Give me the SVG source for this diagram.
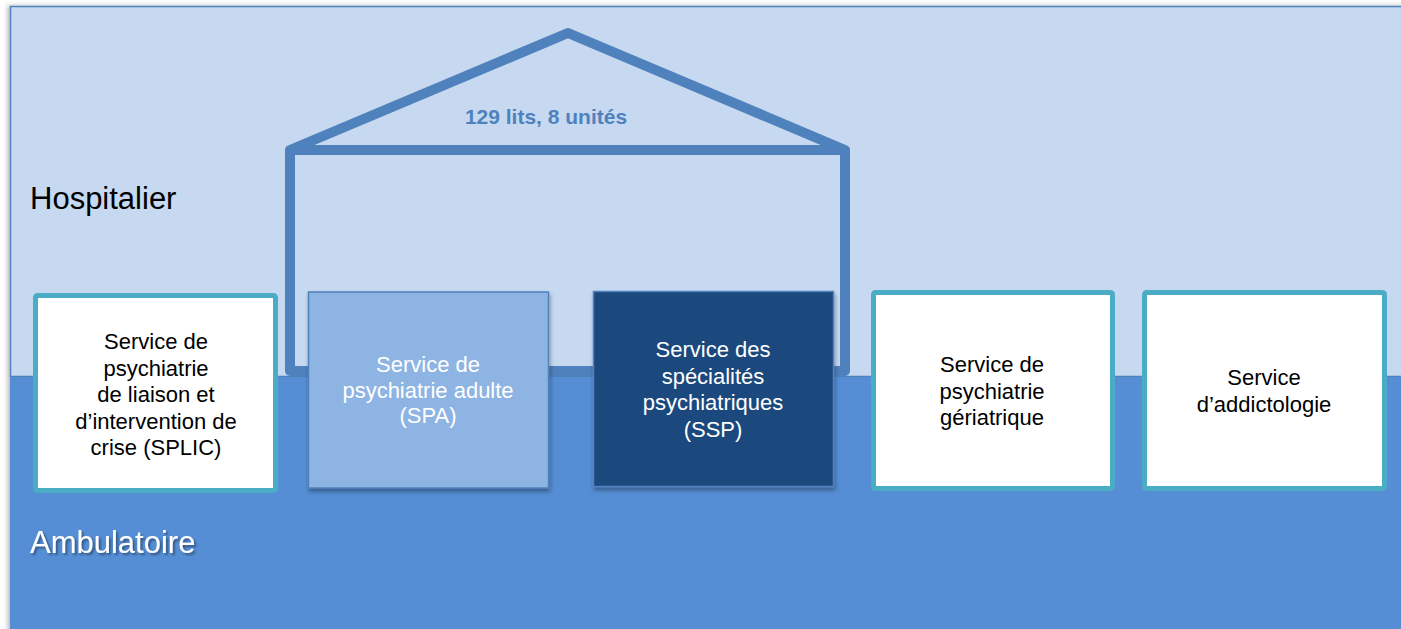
<svg xmlns="http://www.w3.org/2000/svg" width="1401" height="629" viewBox="0 0 1401 629">
<defs>
<filter id="sh" x="-10%" y="-10%" width="130%" height="130%">
<feGaussianBlur in="SourceAlpha" stdDeviation="2"/>
<feOffset dx="1" dy="3" result="b"/>
<feFlood flood-color="#000" flood-opacity="0.35"/>
<feComposite in2="b" operator="in"/>
<feMerge><feMergeNode/><feMergeNode in="SourceGraphic"/></feMerge>
</filter>
<filter id="tsh" x="-10%" y="-30%" width="130%" height="160%">
<feGaussianBlur in="SourceAlpha" stdDeviation="1"/>
<feOffset dx="1.5" dy="1.5" result="b"/>
<feFlood flood-color="#000" flood-opacity="0.4"/>
<feComposite in2="b" operator="in"/>
<feMerge><feMergeNode/><feMergeNode in="SourceGraphic"/></feMerge>
</filter>
<filter id="lsh" x="-5%" y="-5%" width="110%" height="110%">
<feGaussianBlur in="SourceAlpha" stdDeviation="2.5"/>
<feOffset dx="-2" dy="0" result="b"/>
<feFlood flood-color="#000" flood-opacity="0.3"/>
<feComposite in2="b" operator="in"/>
<feMerge><feMergeNode/><feMergeNode in="SourceGraphic"/></feMerge>
</filter>
</defs>
<style>
text{font-family:"Liberation Sans",Arial,sans-serif;}
.lbl{font-size:22px;text-anchor:middle;}
.blk{fill:#000;}
.wht{fill:#fff;}
.teal{fill:#fff;stroke:#4BACC6;stroke-width:5;}
</style>
<rect width="1401" height="629" fill="#fff"/>
<g id="bands" filter="url(#lsh)">
<rect x="10.5" y="6.5" width="1400" height="370" fill="#C6D9F0" stroke="#4F81BD" stroke-width="1.5"/>
<rect x="10" y="376" width="1401" height="260" fill="#558ED5"/>
</g>
<line x1="10" y1="376.5" x2="1401" y2="376.5" stroke="#4F81BD" stroke-width="1"/>
<g id="house">
<path d="M290,371 L290,150 L568,33 L845,150 L845,371 Z M290,150 L845,150" fill="none" stroke="#4F81BD" stroke-width="10" stroke-linejoin="round"/>
<text x="546" y="124" font-size="21" font-weight="bold" fill="#4F81BD" text-anchor="middle">129 lits, 8 unités</text>
</g>
<text id="hospitalier" x="30" y="209" font-size="31" fill="#000">Hospitalier</text>
<text id="ambulatoire" x="30" y="553" font-size="31" fill="#fff" filter="url(#tsh)">Ambulatoire</text>
<g id="splic">
<rect class="teal" x="35.5" y="295.5" width="240" height="195" rx="2"/>
<text class="lbl blk"><tspan x="156" y="349">Service de</tspan><tspan x="156" y="375.5">psychiatrie</tspan><tspan x="156" y="402">de liaison et</tspan><tspan x="156" y="428.5">d’intervention de</tspan><tspan x="156" y="455">crise (SPLIC)</tspan></text>
</g>
<g id="spa">
<rect x="308.5" y="292" width="240" height="196" fill="#8EB4E3" stroke="#4F81BD" stroke-width="1.5" filter="url(#sh)"/>
<text class="lbl wht"><tspan x="428" y="372">Service de</tspan><tspan x="428" y="397.5">psychiatrie adulte</tspan><tspan x="428" y="423">(SPA)</tspan></text>
</g>
<g id="ssp">
<rect x="593.5" y="291.5" width="240" height="195" fill="#1F497D" stroke="#4F81BD" stroke-width="1.5" filter="url(#sh)"/>
<text class="lbl wht"><tspan x="713" y="357">Service des</tspan><tspan x="713" y="383.5">spécialités</tspan><tspan x="713" y="410">psychiatriques</tspan><tspan x="713" y="436.5">(SSP)</tspan></text>
</g>
<g id="geriatrie">
<rect class="teal" x="873.5" y="292.5" width="239" height="196" rx="2"/>
<text class="lbl blk"><tspan x="992" y="372">Service de</tspan><tspan x="992" y="398.5">psychiatrie</tspan><tspan x="992" y="425">gériatrique</tspan></text>
</g>
<g id="addicto">
<rect class="teal" x="1144.5" y="292.5" width="240" height="196" rx="2"/>
<text class="lbl blk"><tspan x="1264" y="385">Service</tspan><tspan x="1264" y="411.5">d’addictologie</tspan></text>
</g>
<g id="connectors"/>
</svg>
